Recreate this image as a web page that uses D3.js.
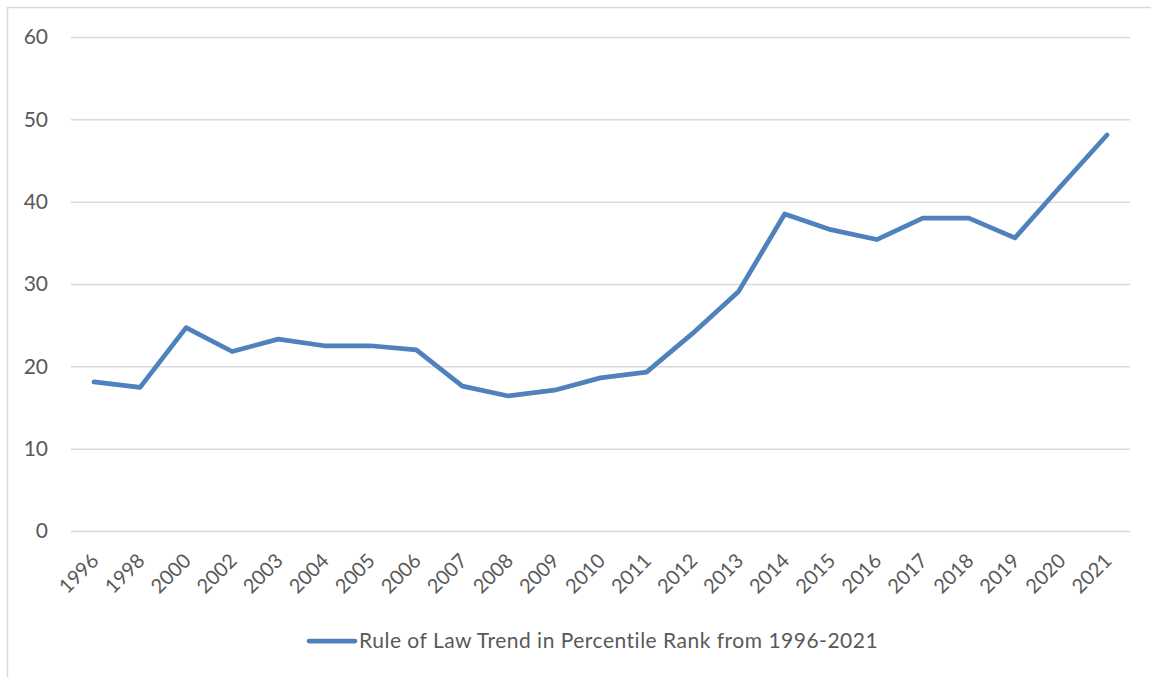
<!DOCTYPE html>
<html>
<head>
<meta charset="utf-8">
<script src="https://cdn.jsdelivr.net/npm/d3@7"></script>
<style>
  body { margin: 0; background: #fff; }
  svg { display: block; font-family: Lato, "Open Sans", sans-serif; }
  .axis text { fill: #595959; }
</style>
</head>
<body>
<svg id="chart" width="1151" height="677"></svg>
<script>
const years = ["1996", "1998", "2000", "2002", "2003", "2004", "2005", "2006", "2007", "2008", "2009",
    "2010", "2011", "2012", "2013", "2014", "2015", "2016", "2017", "2018", "2019", "2020", "2021"];
const rankValues = [18.1, 17.45, 24.7, 21.8, 23.3, 22.5, 22.5, 22.0, 17.6, 16.4, 17.1,
    18.6, 19.3, 24.0, 29.1, 38.5, 36.6, 35.4, 38.0, 38.0, 35.6, 41.9, 48.1];
const yTicks = [0, 10, 20, 30, 40, 50, 60];
const seriesName = "Rule of Law Trend in Percentile Rank from 1996-2021";

const margin = {left: 71, right: 21, top: 37, bottom: 146};
const svg = d3.select("#chart");
const width = +svg.attr("width");
const height = +svg.attr("height");

// chart frame (only the left and top edges show in the picture)
svg.append("rect")
    .attr("x", 7.5).attr("y", 7.5)
    .attr("width", width + 20).attr("height", height + 20)
    .attr("fill", "none")
    .attr("stroke", "#d9d9d9")
    .attr("stroke-width", 1.5);

const scaleX = d3.scaleBand()
    .domain(years)
    .range([margin.left, width - margin.right]);

const scaleY = d3.scaleLinear()
    .domain([0, 60])
    .range([height - margin.bottom, margin.top]);

// gridlines + y labels
const axisY = d3.axisLeft(scaleY)
    .tickValues(yTicks)
    .tickSize(-(width - margin.left - margin.right))
    .tickPadding(23);
svg.append("g")
    .attr("class", "axis")
    .attr("transform", `translate(${margin.left},0)`)
    .call(axisY)
    .call(g => g.select(".domain").remove())
    .call(g => g.selectAll("line").attr("stroke", "#d9d9d9").attr("stroke-width", 1.5))
    .call(g => g.selectAll("text").attr("font-size", 21).attr("font-family", "Lato, sans-serif"));

// x labels, rotated
const axisX = d3.axisBottom(scaleX).tickSize(0);
svg.append("g")
    .attr("class", "axis")
    .attr("transform", `translate(0,${height - margin.bottom})`)
    .call(axisX)
    .call(g => g.select(".domain").remove())
    .call(g => g.selectAll("text")
        .attr("font-size", 20)
        .attr("font-family", "Lato, sans-serif")
        .attr("text-anchor", "end")
        .attr("dy", "0")
        .attr("y", 0)
        .attr("transform", "translate(6,31) rotate(-45)"));

const line = d3.line()
    .x((d, i) => scaleX(years[i]) + scaleX.bandwidth() / 2)
    .y(d => scaleY(d));

svg.append("path")
    .datum(rankValues)
    .attr("fill", "none")
    .attr("stroke", "#4f81bd")
    .attr("stroke-width", 4.75)
    .attr("stroke-linejoin", "round")
    .attr("stroke-linecap", "round")
    .attr("d", line);

// legend
const legend = svg.append("g").attr("transform", "translate(309,641)");
legend.append("line")
    .attr("x1", 0).attr("x2", 46)
    .attr("stroke", "#4f81bd")
    .attr("stroke-width", 4.75)
    .attr("stroke-linecap", "round");
legend.append("text")
    .attr("x", 50)
    .attr("dy", "0.35em")
    .attr("font-size", 21)
    .attr("letter-spacing", 0.5)
    .attr("fill", "#595959")
    .text(seriesName);
</script>
</body>
</html>
